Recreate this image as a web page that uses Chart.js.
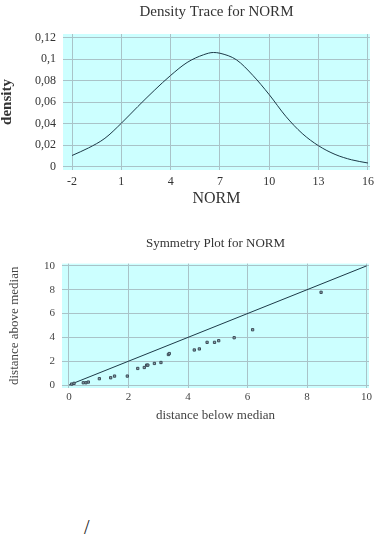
<!DOCTYPE html>
<html>
<head>
<meta charset="utf-8">
<script src="https://cdn.jsdelivr.net/npm/chart.js@4"></script>
<style>
  body { margin: 0; background: #fff; width: 379px; height: 535px; position: relative; overflow: hidden; }
  #densityChart { position: absolute; left: 0; top: 0; }
  #symChart { position: absolute; left: 0; top: 228px; }
  .mark { position: absolute; left: 84px; top: 516px; font: 20px 'Liberation Serif', serif; color: #222; }
</style>
</head>
<body>
<canvas id="densityChart" width="379" height="215"></canvas>
<canvas id="symChart" width="379" height="200"></canvas>
<div class="mark">/</div>
<script>
// Density trace values
const normX = [-2, -1, 0, 1, 2, 3, 4, 5, 6, 6.6, 7, 8, 9, 10, 11, 12, 13, 14, 15, 16];
const density = [0.0105, 0.0175, 0.0265, 0.0405, 0.056, 0.071, 0.085, 0.097, 0.1042, 0.1063, 0.1056, 0.0995, 0.085, 0.067, 0.047, 0.031, 0.0195, 0.0115, 0.0065, 0.0035];
const normTicks = [-2, 1, 4, 7, 10, 13, 16];
const densityTicks = [0, 0.02, 0.04, 0.06, 0.08, 0.1, 0.12];

// Symmetry plot values
const belowMedian = [0.09, 0.17, 0.48, 0.57, 0.65, 1.02, 1.40, 1.53, 1.96, 2.31, 2.53, 2.61, 2.65, 2.87, 3.09, 3.34, 3.37, 4.21, 4.38, 4.64, 4.89, 5.03, 5.55, 6.17, 8.47];
const aboveMedian = [0.08, 0.14, 0.19, 0.19, 0.25, 0.53, 0.61, 0.75, 0.75, 1.39, 1.47, 1.67, 1.67, 1.81, 1.89, 2.56, 2.64, 2.94, 3.03, 3.58, 3.58, 3.72, 3.97, 4.64, 7.78];
const symTicks = [0, 2, 4, 6, 8, 10];
const refLine = [0, 10];

const serif = "'Liberation Serif', 'Times New Roman', serif";
const gridColor = '#a9c3c8';

// fill the plot area with the light cyan background
const plotBg = {
    id: 'plotBg',
    beforeDraw(chart) {
        const a = chart.chartArea;
        const ctx = chart.ctx;
        ctx.save();
        ctx.fillStyle = '#ccffff';
        ctx.fillRect(a.left, a.top, a.right - a.left, a.bottom - a.top);
        ctx.restore();
    }
};

function fixedTicks(list) {
    return function(scale) {
        scale.ticks = list.map(v => ({ value: v }));
    };
}

document.addEventListener('DOMContentLoaded', function() {
    Chart.defaults.font.family = serif;

    new Chart(document.getElementById('densityChart'), {
        type: 'scatter',
        data: {
            datasets: [{
                data: normX.map((x, i) => ({ x: x, y: density[i] })),
                showLine: true,
                borderColor: '#1d3a48',
                borderWidth: 1,
                pointRadius: 0,
                cubicInterpolationMode: 'monotone',
                fill: false
            }]
        },
        options: {
            responsive: false,
            animation: false,
            devicePixelRatio: 1,
            layout: { padding: { right: 9 } },
            plugins: {
                legend: { display: false },
                tooltip: { enabled: false },
                title: {
                    display: true,
                    fullSize: false,
                    text: 'Density Trace for NORM',
                    color: '#333',
                    font: { size: 15, weight: 'normal' },
                    padding: { top: 3, bottom: 13 }
                }
            },
            scales: {
                x: {
                    type: 'linear',
                    min: -2.55,
                    max: 16.12,
                    afterBuildTicks: fixedTicks(normTicks),
                    afterFit(scale) { scale.height = 45; },
                    grid: { color: gridColor, drawTicks: false },
                    border: { display: false },
                    ticks: { color: '#333', font: { size: 12 }, padding: 5 },
                    title: {
                        display: true,
                        text: 'NORM',
                        color: '#333',
                        font: { size: 16 },
                        padding: { top: 0, bottom: 7 }
                    }
                },
                y: {
                    min: -0.003,
                    max: 0.1235,
                    afterBuildTicks: fixedTicks(densityTicks),
                    afterFit(scale) { scale.width = 63; },
                    grid: { color: gridColor, drawTicks: false },
                    border: { display: false },
                    ticks: {
                        color: '#333',
                        font: { size: 12 },
                        padding: 7,
                        callback: v => String(+v.toFixed(3)).replace('.', ',')
                    },
                    title: {
                        display: true,
                        text: 'density',
                        color: '#333',
                        font: { size: 15, weight: 'bold', lineHeight: 1 },
                        padding: { top: 0, bottom: 0 }
                    }
                }
            }
        },
        plugins: [plotBg]
    });

    new Chart(document.getElementById('symChart'), {
        type: 'scatter',
        data: {
            datasets: [
                {
                    data: belowMedian.map((x, i) => ({ x: x, y: aboveMedian[i] })),
                    pointStyle: 'rect',
                    pointRadius: 1.6,
                    borderWidth: 1,
                    borderColor: '#3c4c58',
                    backgroundColor: '#8fa4ac'
                },
                {
                    data: refLine.map(v => ({ x: v, y: v })),
                    showLine: true,
                    borderColor: '#1d3a48',
                    borderWidth: 1,
                    pointRadius: 0
                }
            ]
        },
        options: {
            responsive: false,
            animation: false,
            devicePixelRatio: 1,
            layout: { padding: { right: 10 } },
            plugins: {
                legend: { display: false },
                tooltip: { enabled: false },
                title: {
                    display: true,
                    fullSize: false,
                    text: 'Symmetry Plot for NORM',
                    color: '#333',
                    font: { size: 13, weight: 'normal' },
                    padding: { top: 8, bottom: 12 }
                }
            },
            scales: {
                x: {
                    type: 'linear',
                    min: -0.235,
                    max: 10.08,
                    afterBuildTicks: fixedTicks(symTicks),
                    afterFit(scale) { scale.height = 40; },
                    grid: { color: gridColor, drawTicks: false },
                    border: { display: false },
                    ticks: { color: '#444', font: { size: 11 }, padding: 3 },
                    title: {
                        display: true,
                        text: 'distance below median',
                        color: '#444',
                        font: { size: 13 },
                        padding: { top: 0, bottom: 5 }
                    }
                },
                y: {
                    min: -0.25,
                    max: 10.19,
                    afterBuildTicks: fixedTicks(symTicks),
                    afterFit(scale) { scale.width = 62; },
                    grid: { color: gridColor, drawTicks: false },
                    border: { display: false },
                    ticks: { color: '#444', font: { size: 11 }, padding: 7 },
                    title: {
                        display: true,
                        text: 'distance above median',
                        color: '#444',
                        font: { size: 13 },
                        padding: { top: 7, bottom: 0 }
                    }
                }
            }
        },
        plugins: [plotBg]
    });
});
</script>
</body>
</html>
